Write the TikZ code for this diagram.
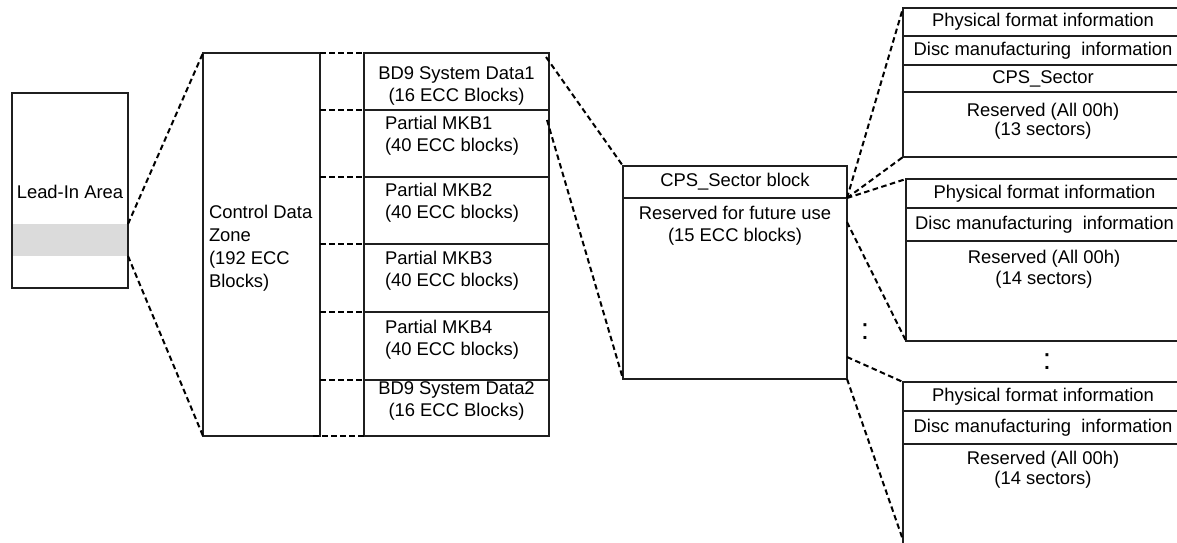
\documentclass[tikz,border=0pt]{standalone}
\usepackage{fontspec}
\setmainfont{Liberation Sans}
\usetikzlibrary{calc}
\begin{document}
\begin{tikzpicture}[x=1pt,y=-1pt,
  box/.style={draw=black!88, line width=1.3pt, inner sep=0pt, outer sep=0pt, anchor=north west,
    font=\fontsize{18.4}{22.5}\selectfont},
  txt/.style={inner sep=0pt, outer sep=0pt, align=center, font=\fontsize{18.4}{22}\selectfont},
  ltxt/.style={txt, align=left, anchor=west},
  dsh/.style={dash pattern=on 5.5pt off 3.5pt, line width=2pt, black},
  dotsty/.style={inner sep=0pt, outer sep=0pt, font=\fontsize{30}{30}\selectfont}]
\useasboundingbox (0,0) rectangle (1177,542);

% Lead-in area
\node[fill=black!14, minimum width=116pt, minimum height=32pt, inner sep=0pt, outer sep=0pt, anchor=north west] (band) at (12,224) {};
\node[box, minimum width=116pt, minimum height=195pt] (lead) at (12,93) {};
\node[txt] (leadtxt) at (70,192) {Lead-In Area};

% Control data zone
\node[box, minimum width=117pt, minimum height=383pt] (cdz) at (203,53) {};
\node[ltxt, font=\fontsize{18.4}{23}\selectfont] (cdztxt) at (209,248) {Control Data\\Zone\\(192 ECC\\Blocks)};

% Blocks
\node[box, minimum width=185pt, minimum height=57pt] (b1) at (364,53) {};
\node[box, minimum width=185pt, minimum height=67pt] (b2) at (364,110) {};
\node[box, minimum width=185pt, minimum height=67pt] (b3) at (364,177) {};
\node[box, minimum width=185pt, minimum height=68pt] (b4) at (364,244) {};
\node[box, minimum width=185pt, minimum height=68pt] (b5) at (364,312) {};
\node[box, minimum width=185pt, minimum height=56pt] (b6) at (364,380) {};
\node[txt] (b1txt) at (456.5,86) {BD9 System Data1\\(16 ECC Blocks)};
\node[ltxt] (b2txt) at (385,136) {Partial MKB1\\(40 ECC blocks)};
\node[ltxt] (b3txt) at (385,203) {Partial MKB2\\(40 ECC blocks)};
\node[ltxt] (b4txt) at (385,271) {Partial MKB3\\(40 ECC blocks)};
\node[ltxt] (b5txt) at (385,339.5) {Partial MKB4\\(40 ECC blocks)};
\node[txt] (b6txt) at (456.5,401) {BD9 System Data2\\(16 ECC Blocks)};

% CPS sector block
\node[box, minimum width=224pt, minimum height=32pt] (cpshead) at (623,166) {CPS\_Sector block};
\node[box, minimum width=224pt, minimum height=181pt] (cpsbody) at (623,198) {};
\node[txt] (cpstxt) at (735,226) {Reserved for future use\\(15 ECC blocks)};

% Stack 1
\node[box, minimum width=280pt, minimum height=28pt] (s1a) at (903,8) {Physical format information};
\node[box, minimum width=280pt, minimum height=29pt] (s1b) at (903,36) {Disc manufacturing\ \ information};
\node[box, minimum width=280pt, minimum height=27pt] (s1c) at (903,65) {CPS\_Sector};
\node[box, minimum width=280pt, minimum height=65pt] (s1d) at (903,92) {};
\node[txt, font=\fontsize{18.4}{19}\selectfont] (s1txt) at (1043,121) {Reserved (All 00h)\\(13 sectors)};

% Stack 2
\node[box, minimum width=277pt, minimum height=29pt] (s2a) at (906,179) {Physical format information};
\node[box, minimum width=277pt, minimum height=33pt] (s2b) at (906,208) {Disc manufacturing\ \ information};
\node[box, minimum width=277pt, minimum height=100pt] (s2c) at (906,241) {};
\node[txt, font=\fontsize{18.4}{21}\selectfont] (s2txt) at (1044,269.5) {Reserved (All 00h)\\(14 sectors)};

% Stack 3
\node[box, minimum width=280pt, minimum height=29pt] (s3a) at (903,382) {Physical format information};
\node[box, minimum width=280pt, minimum height=33pt] (s3b) at (903,411) {Disc manufacturing\ \ information};
\node[box, minimum width=280pt, minimum height=104pt] (s3c) at (903,444) {};
\node[txt, font=\fontsize{18.4}{20}\selectfont] (s3txt) at (1043,469.5) {Reserved (All 00h)\\(14 sectors)};
\coordinate (s3end) at (903,540);

% Continuation dots
\node[dotsty] (dots1) at (865,332) {:};
\node[dotsty] (dots2) at (1047,362) {:};

% Connectors
\draw[dsh] (band.north east) -- (cdz.north west);
\draw[dsh] (band.south east) -- (cdz.south west);
\foreach \b in {b1,b2,b3,b4,b5,b6}
  \draw[dsh] (\b.north west -| cdz.east) -- (\b.north west);
\draw[dsh] ($(b6.south west -| cdz.east)+(-7,0)$) -- (b6.south west);
\draw[dsh] ($(b1.north east)+(-3,4)$) -- (cpshead.north west);
\draw[dsh] ($(b1.south east)+(-2,10)$) -- (cpsbody.south west);
\draw[dsh] (cpshead.south east) -- (s1a.north west);
\draw[dsh] (cpshead.south east) -- (s1d.south west);
\draw[dsh] (cpshead.south east) -- (s2a.north west);
\draw[dsh] ($(cpsbody.north east)+(0,24)$) -- (s2c.south west);
\draw[dsh] ($(cpsbody.south east)+(0,-22)$) -- (s3a.north west);
\draw[dsh] (cpsbody.south east) -- (s3end);
\end{tikzpicture}
\end{document}
